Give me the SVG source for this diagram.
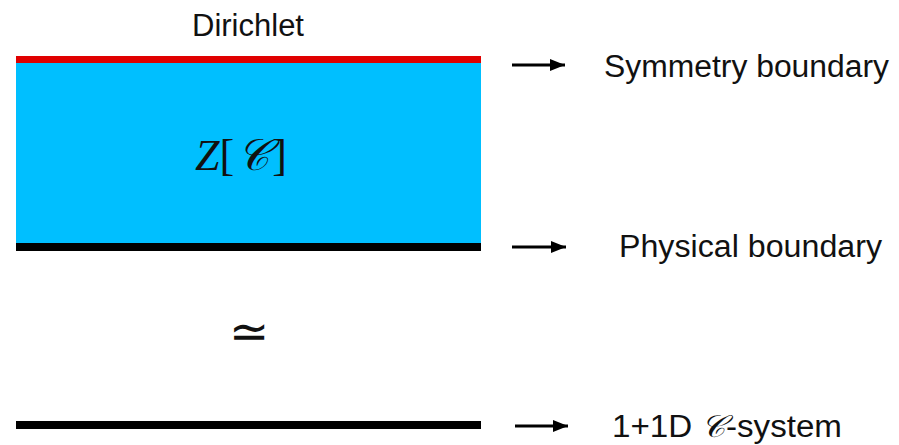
<svg xmlns="http://www.w3.org/2000/svg" width="899" height="445" viewBox="0 0 899 445">
  <defs>
    <marker id="ah" markerWidth="16" markerHeight="14" refX="15" refY="7" orient="auto" markerUnits="userSpaceOnUse">
      <path d="M0,1 L15,7 L0,13 Z" fill="#000"/>
    </marker>
    <style>
      .lbl { font-family: "Liberation Sans", Arial, sans-serif; font-size: 31px; fill: #111; }
      .math { font-family: "Liberation Serif", "Times New Roman", serif; fill: #111; }
      .arr { stroke: #000; stroke-width: 3; fill: none; marker-end: url(#ah); }
    </style>
  </defs>
  <rect width="899" height="445" fill="#fff"/>
  <g id="bulk">
    <rect x="16" y="63" width="465" height="181" fill="#00BFFF"/>
    <text class="math" x="195" y="170" font-size="44"><tspan font-style="italic">Z</tspan>[<tspan font-family="DejaVu Serif, DejaVu Sans, serif" font-style="italic" dx="3">𝒞</tspan><tspan dx="3">]</tspan></text>
  </g>
  <g id="symmetry-boundary">
    <rect x="16" y="56" width="465" height="7" fill="#E00000"/>
    <text class="lbl" x="248" y="36" text-anchor="middle">Dirichlet</text>
  </g>
  <g id="physical-boundary">
    <rect x="16" y="243" width="465" height="8" fill="#000"/>
  </g>
  <g id="equiv">
    <text class="math" x="249" y="348" font-size="48" text-anchor="middle">≃</text>
  </g>
  <g id="system">
    <rect x="16" y="421" width="465" height="8" fill="#000"/>
  </g>
  <g id="connectors">
    <line class="arr" x1="512" y1="65" x2="565" y2="65"/>
    <line class="arr" x1="512" y1="247" x2="566" y2="247"/>
    <line class="arr" x1="515" y1="426" x2="568" y2="426"/>
  </g>
  <g id="labels">
    <text class="lbl" x="604" y="77" textLength="285" lengthAdjust="spacingAndGlyphs">Symmetry boundary</text>
    <text class="lbl" x="619" y="257" textLength="263" lengthAdjust="spacingAndGlyphs">Physical boundary</text>
    <text class="lbl" x="612" y="437" textLength="230" lengthAdjust="spacingAndGlyphs">1+1D <tspan font-family="DejaVu Serif, DejaVu Sans, serif" font-style="italic">𝒞</tspan>-system</text>
  </g>
</svg>
